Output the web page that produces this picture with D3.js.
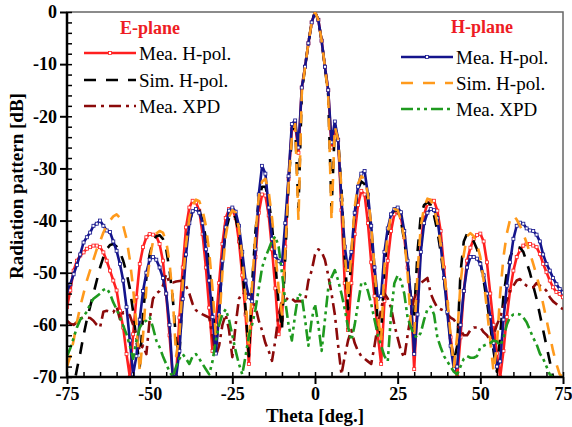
<!DOCTYPE html>
<html>
<head>
<meta charset="utf-8">
<script src="https://d3js.org/d3.v7.min.js"></script>
<style>
  body { margin: 0; background: #fff; }
  text { font-family: "Liberation Serif", "Times New Roman", serif; }
</style>
</head>
<body>
<svg id="chart" width="572" height="427"></svg>
<script>
// sample angles (deg), 1 degree apart
const theta = d3.range(-75, 76);

// E-plane, measured H-pol (red)
const meaE = [
  -56.6,-53.4,-49.6,-47.7,-46.7,-46.1,-45.4,-45.1,-44.8,-44.8,
  -45.1,-46.1,-47.7,-49.6,-51.5,-53.4,-57.3,-60.5,-65.6,-70,
  -61.8,-54.7,-48.3,-45.1,-43.2,-42.6,-42.7,-43,-44.5,-47.7,
  -54.1,-62,-70,-70,-58.6,-49,-41.3,-37.5,-36.2,-36.5,
  -38.1,-42.6,-49,-56.7,-65,-60,-52,-44.5,-39.5,-37.8,
  -37.8,-39.5,-44,-50.5,-58,-67.5,-56.5,-47,-38.5,-35,
  -35.2,-39,-45.5,-53,-61.8,-59,-45,-32,-22.5,-21.5,
  -27,-14.5,-10.5,-6,-2,0,-1.5,-5.5,-10.5,-15,
  -26,-22,-24.5,-38,-52,-61,-52,-42.6,-37,-34.3,
  -35,-40.5,-48,-54.5,-62,-67.5,-55.4,-47.7,-42,-38.8,
  -38.4,-39.4,-43.2,-49,-55.4,-68.5,-55.4,-44.5,-38.8,-36.8,
  -36.2,-36.2,-38.1,-42,-49,-56,-62.4,-66.9,-70,-62.4,
  -53.5,-47.7,-45.2,-43.5,-42.8,-42.5,-44,-48,-54,-60,
  -65.5,-70,-65,-58.5,-53.4,-49.6,-47,-45.7,-44.8,-44.5,
  -44.5,-44.8,-45.1,-46.4,-48.3,-49.9,-51.5,-52.8,-53.7,-54.1,
  -54.7
];

// E-plane, simulated H-pol (black dashed)
const simE = [
  -78,-75,-72,-68.5,-65.5,-62,-59,-56.5,-54,-51.5,
  -49,-47,-45.5,-44.7,-44.5,-45,-46,-47.7,-50,-53,
  -57.5,-63,-68,-58,-51,-46.5,-44,-43,-42.8,-43.5,
  -45.5,-49.5,-55,-63,-66,-53,-45,-40.5,-38,-37.3,
  -38,-40,-43.5,-48.5,-56,-65,-57,-48,-42,-39.5,
  -38.5,-39.5,-42.5,-48,-57,-66,-52,-42,-36,-33.5,
  -33.5,-36,-41,-48,-56,-61,-47,-33,-24,-21.5,
  -38,-15.5,-10.5,-6,-2,0,-1.5,-5.5,-10.5,-16,
  -38,-22,-24.5,-34,-47,-57,-47,-38.5,-34,-32.5,
  -33,-36,-42,-50,-60,-62,-49,-42.6,-39,-38,
  -38.1,-40,-44,-48,-55,-58,-46,-39,-37,-36.5,
  -37,-39,-42,-46,-51,-57,-63,-67,-64,-50,
  -44,-42.5,-43,-44,-45.5,-48,-51.5,-55.5,-60,-65,
  -69,-62,-54.5,-50,-47,-45.5,-45,-45.2,-46,-48,
  -50,-52.5,-55,-58,-61,-64,-67,-70,-73,-75,
  -77
];

// E-plane, measured XPD (dark red dash-dot)
const xpdE = [
  -59.2,-59.8,-60,-59.5,-58.8,-58.6,-58.6,-58.7,-59.2,-60,
  -60.5,-57.5,-57.3,-57.5,-57.6,-56.5,-58.9,-57.6,-57.8,-58.2,
  -60,-62.5,-65,-64,-65.6,-59,-55,-54,-53.5,-52.5,
  -50.3,-51.9,-51.9,-51.7,-51.6,-51.5,-52.5,-54,-56,-57.2,
  -57.6,-58,-58.3,-58.6,-62,-66,-64,-60,-58,-61,
  -66.2,-60,-55,-53.8,-54,-54.1,-55,-56.5,-59.2,-61.1,
  -63.5,-65,-66.9,-63,-58,-55.5,-55.4,-54.7,-55,-55.5,
  -55.4,-55.5,-55.5,-51.5,-49.6,-46.5,-45.5,-46,-47.5,-50.5,
  -54,-58,-64,-69.5,-66,-63,-61,-63.5,-65,-66,
  -66.5,-67,-67.5,-64,-60,-57,-54,-55,-56.7,-60,
  -62.5,-65,-66.3,-62,-58,-55,-53,-52,-51.5,-51,
  -54,-55.5,-56.7,-57,-57.3,-58,-58.6,-59,-60,-61,
  -62,-62,-61,-60.5,-60.5,-60.5,-61.4,-62,-63,-62,
  -60,-58.5,-56.5,-55.3,-53.4,-52.5,-51.5,-51.2,-52,-52.5,
  -52.8,-52.8,-52,-52.5,-52.8,-53.5,-54.7,-55.5,-56,-56.6,
  -57
];

// H-plane, measured H-pol (navy)
const meaH = [
  -53.5,-52.2,-50.3,-48.5,-46.5,-44.2,-43.2,-42.3,-41,-40.6,
  -40,-41,-41.9,-42.2,-44,-45.8,-48.3,-51.5,-56.6,-63,
  -69.5,-66,-59,-53.5,-50,-47.5,-47,-47.5,-49,-51,
  -54,-60,-70,-70,-65,-55,-46.5,-40.5,-38.2,-37.8,
  -38.5,-40.5,-45.5,-51.5,-58.5,-65.5,-58,-47.7,-41.3,-38.1,
  -37.5,-38.3,-41,-46,-51.5,-54.7,-55.5,-45.5,-35,-29.5,
  -31,-37.5,-43.5,-46.8,-47.8,-48.3,-40.5,-31.5,-21.5,-20.8,
  -26,-14.5,-10.5,-6,-2,0,-1.5,-5.5,-10.5,-15,
  -25,-21,-24.5,-36,-45,-49.5,-46,-38.5,-33.5,-31,
  -30.5,-35,-41,-49,-55,-54.5,-46,-41.5,-38.8,-37.8,
  -37.5,-38.4,-42,-47.7,-54.8,-65.6,-58,-46,-40.5,-38.5,
  -37.8,-38,-39.5,-44.5,-51,-57.5,-64,-68.5,-68,-60,
  -53.5,-49,-47,-47,-47.3,-48.3,-50.5,-54,-58.5,-63.5,
  -68,-67,-59,-52.5,-48,-43.5,-41,-40.4,-40.6,-41.5,
  -41.9,-42,-42.7,-44,-46.5,-48.3,-49.6,-51,-52.2,-53.1,
  -53.8
];

// H-plane, simulated H-pol (orange dashed)
const simH = [
  -68,-66,-63,-59.5,-56.5,-54,-51.5,-49.5,-47.5,-45.5,
  -44,-42.3,-41,-40,-39.2,-38.8,-39.5,-41,-43.5,-47.5,
  -53,-60,-69,-62,-53,-47.5,-44,-42.5,-42,-42.3,
  -44,-48,-55,-66,-62,-52,-44.5,-39.5,-37,-36,
  -36.3,-38,-41,-46,-53,-62,-60,-50,-43,-39.3,
  -38,-38.5,-41.5,-47,-55,-64,-52,-42.5,-35.5,-32.5,
  -32,-34.5,-39.5,-46,-53,-58,-46,-33,-24,-21.5,
  -40,-15.5,-10.5,-6,-2,0,-1.5,-5.5,-10.5,-16,
  -40,-22,-24.5,-34,-46,-55,-46,-37.5,-33,-31.5,
  -32,-35,-41,-49,-58,-63,-49,-42.5,-39,-37.8,
  -38,-40,-43.5,-50,-60,-62,-50,-41,-37.5,-35.8,
  -36,-37.5,-40.5,-44.5,-50,-55,-62,-68,-62,-52,
  -46.5,-43,-42.4,-43,-44.5,-47,-51.5,-57,-63,-69,
  -64,-54,-47,-42.5,-39.8,-39,-39.8,-41,-42.5,-44.3,
  -46.2,-48.3,-50.5,-53,-56,-59,-62,-65,-67.5,-69.5,
  -70
];

// H-plane, measured XPD (green dash-dot-dot)
const xpdH = [
  -66,-64.5,-62.5,-60.5,-59,-58.3,-57.5,-56,-55,-54.5,
  -54,-53.3,-53,-54,-55.7,-57,-58.5,-60.2,-61.8,-64,
  -66.5,-63,-60.5,-59.5,-59.2,-58.5,-60.5,-63,-64.3,-66,
  -67.5,-69,-70,-68,-66.5,-65.6,-66.5,-67.5,-66,-65.6,
  -66.5,-67.5,-68.5,-69.5,-67,-63,-60,-58,-57,-59,
  -62,-65,-67.5,-69.5,-66,-62,-59.9,-57,-53,-49,
  -47,-45.5,-43.9,-43,-45,-50,-55.4,-60,-63,-58,
  -54,-54.5,-59,-64,-59,-56,-60,-65,-59,-53,
  -50.9,-49.5,-51.5,-54,-57,-60.5,-63,-60,-56,-52,
  -51.8,-53.5,-56,-59,-62,-64,-66,-67,-58,-52,
  -50.5,-51.5,-54,-58.6,-60.5,-62,-62.5,-61.5,-59,-57,
  -56.5,-58,-62.4,-64.3,-66,-67,-68,-69,-69.5,-68,
  -66.5,-66,-66.3,-66.3,-66,-64.3,-64,-63.7,-63.5,-63,
  -63.2,-64,-62.5,-60,-58.5,-58,-57.9,-58,-58.6,-59.5,
  -61,-62.5,-63.7,-65.5,-66.5,-68,-69.5,-70,-71,-72,
  -73
];

const xTicks = [-75, -50, -25, 0, 25, 50, 75];
const yTicks = [0, -10, -20, -30, -40, -50, -60, -70];

const series = [
  { name: "Mea. H-pol.", values: meaE, color: "#ff1f1f", dash: null, marker: true },
  { name: "Sim. H-pol.", values: simE, color: "#000000", dash: "12,10", marker: false },
  { name: "Mea. XPD", values: xpdE, color: "#8b0a0a", dash: "12,5,3,5", marker: false },
  { name: "Mea. H-pol.", values: meaH, color: "#14148c", dash: null, marker: true },
  { name: "Sim. H-pol.", values: simH, color: "#ff9a1c", dash: "12,10", marker: false },
  { name: "Mea. XPD", values: xpdH, color: "#1f9a1f", dash: "12,4,3,4,3,4", marker: false }
];

const svg = d3.select("#chart");
const pLeft = 67, pRight = 563, pTop = 12, pBottom = 377;

const x = d3.scaleLinear().domain([-75, 75]).range([pLeft, pRight]);
const y = d3.scaleLinear().domain([-70, 0]).range([pBottom, pTop]);

svg.append("defs").append("clipPath").attr("id", "plot")
  .append("rect").attr("x", pLeft).attr("y", pTop)
  .attr("width", pRight - pLeft).attr("height", pBottom - pTop);

// frame: grey top/right, black left/bottom
svg.append("rect")
  .attr("x", pLeft).attr("y", pTop)
  .attr("width", pRight - pLeft).attr("height", pBottom - pTop)
  .attr("fill", "none").attr("stroke", "#666").attr("stroke-width", 1.5);

const plot = svg.append("g").attr("clip-path", "url(#plot)");

const line = d3.line()
  .x((d, i) => x(theta[i]))
  .y(d => y(d));

series.forEach(s => {
  plot.append("path")
    .attr("d", line(s.values))
    .attr("fill", "none")
    .attr("stroke", s.color)
    .attr("stroke-width", 2.6)
    .attr("stroke-dasharray", s.dash)
    .attr("stroke-linejoin", "round");
  if (s.marker) {
    plot.append("g").selectAll("rect")
      .data(s.values)
      .enter().append("rect")
      .attr("x", (d, i) => x(theta[i]) - 1.5)
      .attr("y", d => y(d) - 1.5)
      .attr("width", 3).attr("height", 3)
      .attr("fill", "#fff")
      .attr("stroke", s.color)
      .attr("stroke-width", 0.8);
  }
});

// axes
const label = d => String(d);

const xMinor = d3.axisBottom(x).ticks(30).tickSize(-5).tickFormat("");
svg.append("g").attr("transform", `translate(0,${pBottom})`).call(xMinor)
  .call(g => g.select(".domain").remove())
  .selectAll("line").attr("stroke", "#000").attr("stroke-width", 1.5);

const xAxis = d3.axisBottom(x).tickValues(xTicks).tickSize(7).tickPadding(3)
  .tickFormat(label);
svg.append("g").attr("transform", `translate(0,${pBottom})`).call(xAxis)
  .call(g => g.select(".domain").remove())
  .call(g => g.selectAll("line").attr("stroke", "#000").attr("stroke-width", 2))
  .call(g => g.selectAll("text")
    .attr("fill", "#000").attr("font-size", 18).attr("font-weight", "bold")
    .attr("font-family", "Liberation Serif"));

const yMinor = d3.axisLeft(y).ticks(35).tickSize(-5).tickFormat("");
svg.append("g").attr("transform", `translate(${pLeft},0)`).call(yMinor)
  .call(g => g.select(".domain").remove())
  .selectAll("line").attr("stroke", "#000").attr("stroke-width", 1.5);

const yAxis = d3.axisLeft(y).tickValues(yTicks).tickSize(7).tickPadding(3)
  .tickFormat(label);
svg.append("g").attr("transform", `translate(${pLeft},0)`).call(yAxis)
  .call(g => g.select(".domain").remove())
  .call(g => g.selectAll("line").attr("stroke", "#000").attr("stroke-width", 2))
  .call(g => g.selectAll("text")
    .attr("fill", "#000").attr("font-size", 18).attr("font-weight", "bold")
    .attr("font-family", "Liberation Serif"));

svg.append("line").attr("x1", pLeft).attr("x2", pLeft).attr("y1", pTop).attr("y2", pBottom + 1)
  .attr("stroke", "#000").attr("stroke-width", 2.5);
svg.append("line").attr("x1", pLeft - 1).attr("x2", pRight).attr("y1", pBottom).attr("y2", pBottom)
  .attr("stroke", "#000").attr("stroke-width", 2.5);

// axis titles
svg.append("text")
  .attr("x", 315).attr("y", 422)
  .attr("text-anchor", "middle")
  .attr("font-size", 19).attr("font-weight", "bold")
  .text("Theta [deg.]");

svg.append("text")
  .attr("transform", "translate(23,186) rotate(-90)")
  .attr("text-anchor", "middle")
  .attr("font-size", 19).attr("font-weight", "bold")
  .text("Radiation pattern [dB]");

// legends
function legend(title, items, x0, titleX, titleY, rowY) {
  svg.append("text")
    .attr("x", titleX).attr("y", titleY)
    .attr("text-anchor", "middle")
    .attr("font-size", 18).attr("font-weight", "bold")
    .attr("fill", "#ee1c24")
    .text(title);
  items.forEach((s, i) => {
    const yy = rowY[i];
    svg.append("line")
      .attr("x1", x0).attr("x2", x0 + 52).attr("y1", yy).attr("y2", yy)
      .attr("stroke", s.color).attr("stroke-width", 2.6)
      .attr("stroke-dasharray", s.dash);
    if (s.marker) {
      svg.append("rect")
        .attr("x", x0 + 24.5).attr("y", yy - 1.5)
        .attr("width", 3).attr("height", 3)
        .attr("fill", "#fff").attr("stroke", s.color).attr("stroke-width", 0.8);
    }
    svg.append("text")
      .attr("x", x0 + 55).attr("y", yy + 7)
      .attr("font-size", 19)
      .attr("fill", "#000")
      .text(s.name);
  });
}

legend("E-plane", series.slice(0, 3), 84, 150, 34, [53, 80, 106]);
legend("H-plane", series.slice(3, 6), 401, 482, 33, [57, 83, 109]);
</script>
</body>
</html>
